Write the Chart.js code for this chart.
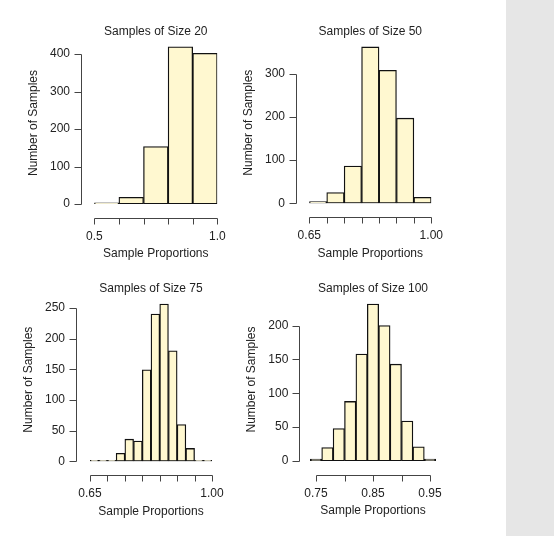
<!DOCTYPE html>
<html>
<head>
<meta charset="utf-8">
<script src="https://cdn.jsdelivr.net/npm/chart.js@4.4.1/dist/chart.umd.min.js"></script>
<style>
  html, body { margin: 0; padding: 0; background: #fff; }
  body { width: 554px; height: 536px; position: relative; overflow: hidden; }
  .side { position: absolute; left: 506px; top: 0; width: 48px; height: 536px; background: #e6e6e6; }
  canvas { position: absolute; }
</style>
</head>
<body>
<div class="side"></div>
<canvas id="c20"></canvas>
<canvas id="c50"></canvas>
<canvas id="c75"></canvas>
<canvas id="c100"></canvas>
<script>
// histogram data (bin centres + counts)
const size20Bins = [0.55, 0.65, 0.75, 0.85, 0.95];
const size20Counts = [3, 18, 153, 419, 402];
const size20XTicks = [0.5, 0.6, 0.7, 0.8, 0.9, 1.0];
const size20XLabels = ['0.5', '', '', '', '', '1.0'];
const size20YTicks = [0, 100, 200, 300, 400];

const size50Bins = [0.675, 0.725, 0.775, 0.825, 0.875, 0.925, 0.975];
const size50Counts = [4, 25, 86, 362, 308, 197, 14];
const size50XTicks = [0.65, 0.70, 0.75, 0.80, 0.85, 0.90, 0.95, 1.00];
const size50XLabels = ['0.65', '', '', '', '', '', '', '1.00'];
const size50YTicks = [0, 100, 200, 300];

const size75Bins = [0.6625, 0.6875, 0.7125, 0.7375, 0.7625, 0.7875, 0.8125,
                    0.8375, 0.8625, 0.8875, 0.9125, 0.9375, 0.9625, 0.9875];
const size75Counts = [0, 0, 1, 13, 36, 33, 149, 240, 256, 180, 60, 21, 1, 0];
const size75XTicks = [0.65, 0.70, 0.75, 0.80, 0.85, 0.90, 0.95, 1.00];
const size75XLabels = ['0.65', '', '', '', '', '', '', '1.00'];
const size75YTicks = [0, 50, 100, 150, 200, 250];

const size100Bins = [0.75, 0.77, 0.79, 0.81, 0.83, 0.85, 0.87, 0.89, 0.91, 0.93, 0.95];
const size100Counts = [3, 20, 48, 88, 158, 232, 200, 143, 59, 21, 3];
const size100XTicks = [0.75, 0.80, 0.85, 0.90, 0.95];
const size100XLabels = ['0.75', '', '0.85', '', '0.95'];
const size100YTicks = [0, 50, 100, 150, 200];

const FONT = "'Liberation Sans', Arial, sans-serif";
const TEXT = '#222';
const FS = 12;

// draws R-style axes: y line from first to last tick, x line below the plot
const axisLines = {
  id: 'axisLines',
  afterDraw(chart, args, opts) {
    const { ctx, chartArea } = chart;
    const xs = chart.scales.x, ys = chart.scales.y;
    ctx.save();
    ctx.strokeStyle = '#444';
    ctx.lineWidth = 1;
    ctx.beginPath();
    // y axis
    const ax = Math.round(chartArea.left - opts.yGap) + 0.5;
    const yp = ys.ticks.map(t => Math.round(ys.getPixelForValue(t.value)) + 0.5);
    ctx.moveTo(ax, yp[0]);
    ctx.lineTo(ax, yp[yp.length - 1]);
    yp.forEach(p => { ctx.moveTo(ax - 7, p); ctx.lineTo(ax, p); });
    // x axis
    const ay = Math.round(chartArea.bottom + opts.xGap) + 0.5;
    const xp = xs.ticks.map(t => Math.round(xs.getPixelForValue(t.value)) + 0.5);
    ctx.moveTo(xp[0], ay);
    ctx.lineTo(xp[xp.length - 1], ay);
    xp.forEach(p => { ctx.moveTo(p, ay); ctx.lineTo(p, ay + 6); });
    ctx.stroke();
    ctx.restore();
  }
};

function makePanel(id, p) {
  const cv = document.getElementById(id);
  cv.width = p.box.w; cv.height = p.box.h;
  cv.style.left = p.box.x + 'px'; cv.style.top = p.box.y + 'px';
  cv.style.width = p.box.w + 'px'; cv.style.height = p.box.h + 'px';

  const lh = FS * 1.2;
  const boxBottom = p.box.y + p.box.h;
  const yGap = p.area.left - p.axisX;
  const titlePadTop = p.titleY - p.box.y - lh / 2;
  const titlePadBottom = p.area.top - p.box.y - titlePadTop - lh;

  return new Chart(cv, {
    type: 'bar',
    data: {
      datasets: [{
        data: p.bins.map((b, i) => ({ x: b, y: p.counts[i] })),
        backgroundColor: '#fff8d0',
        borderColor: '#111',
        borderWidth: 1.3,
        borderSkipped: false,
        minBarLength: 1,
        barPercentage: 1,
        categoryPercentage: 1
      }]
    },
    options: {
      responsive: false,
      animation: false,
      layout: { padding: { left: 0, top: 0, bottom: 0, right: p.box.x + p.box.w - p.area.right } },
      plugins: {
        legend: { display: false },
        tooltip: { enabled: false },
        title: {
          display: true, text: p.title, color: TEXT, fullSize: false,
          font: { family: FONT, size: FS, weight: 'normal' },
          padding: { top: titlePadTop, bottom: titlePadBottom }
        },
        axisLines: { yGap: yGap, xGap: 14 }
      },
      scales: {
        x: {
          type: 'linear', offset: false, min: p.xMin, max: p.xMax,
          afterBuildTicks: s => { s.ticks = p.xTicks.map(v => ({ value: v })); },
          afterFit: s => { s.height = boxBottom - p.area.bottom; s.paddingLeft = 0; s.paddingRight = 0; },
          grid: { display: false, drawTicks: true, tickLength: 21 },
          border: { display: false },
          ticks: {
            padding: 4, color: TEXT, maxRotation: 0, autoSkip: false,
            font: { family: FONT, size: FS },
            callback: (v, i) => p.xLabels[i]
          },
          title: {
            display: true, text: 'Sample Proportions', color: TEXT,
            font: { family: FONT, size: FS },
            padding: { top: 0, bottom: boxBottom - (p.area.bottom + 50) - lh / 2 }
          }
        },
        y: {
          min: 0, max: p.yMax,
          afterBuildTicks: s => { s.ticks = p.yTicks.map(v => ({ value: v })); },
          afterFit: s => { s.width = p.area.left - p.box.x; s.paddingTop = 0; s.paddingBottom = 0; },
          grid: { display: false, drawTicks: true, tickLength: yGap + 7 },
          border: { display: false },
          ticks: {
            padding: 4, color: TEXT, autoSkip: false,
            font: { family: FONT, size: FS },
            callback: v => String(v)
          },
          title: {
            display: true, text: 'Number of Samples', color: TEXT,
            font: { family: FONT, size: FS },
            padding: { top: p.axisX - 47.5 - p.box.x - lh / 2, bottom: 0 }
          }
        }
      }
    },
    plugins: [axisLines]
  });
}

makePanel('c20', {
  title: 'Samples of Size 20',
  bins: size20Bins, counts: size20Counts,
  xTicks: size20XTicks, xLabels: size20XLabels, yTicks: size20YTicks,
  xMin: 0.5, xMax: 1.0, yMax: 432,
  box: { x: 0, y: 0, w: 230, h: 268 },
  area: { left: 94.3, right: 217.3, top: 42, bottom: 204 },
  axisX: 81, titleY: 32
});

makePanel('c50', {
  title: 'Samples of Size 50',
  bins: size50Bins, counts: size50Counts,
  xTicks: size50XTicks, xLabels: size50XLabels, yTicks: size50YTicks,
  xMin: 0.65, xMax: 1.0, yMax: 373.4,
  box: { x: 225, y: 0, w: 230, h: 268 },
  area: { left: 309.3, right: 431.3, top: 42, bottom: 203.3 },
  axisX: 296, titleY: 32
});

makePanel('c75', {
  title: 'Samples of Size 75',
  bins: size75Bins, counts: size75Counts,
  xTicks: size75XTicks, xLabels: size75XLabels, yTicks: size75YTicks,
  xMin: 0.65, xMax: 1.0, yMax: 266,
  box: { x: 0, y: 268, w: 230, h: 268 },
  area: { left: 90, right: 212, top: 298, bottom: 461.3 },
  axisX: 76, titleY: 288.3
});

makePanel('c100', {
  title: 'Samples of Size 100',
  bins: size100Bins, counts: size100Counts,
  xTicks: size100XTicks, xLabels: size100XLabels, yTicks: size100YTicks,
  xMin: 0.73, xMax: 0.97, yMax: 240.8,
  box: { x: 225, y: 268, w: 230, h: 268 },
  area: { left: 304.6, right: 441.4, top: 298, bottom: 461 },
  axisX: 299.3, titleY: 288.3
});
</script>
</body>
</html>
